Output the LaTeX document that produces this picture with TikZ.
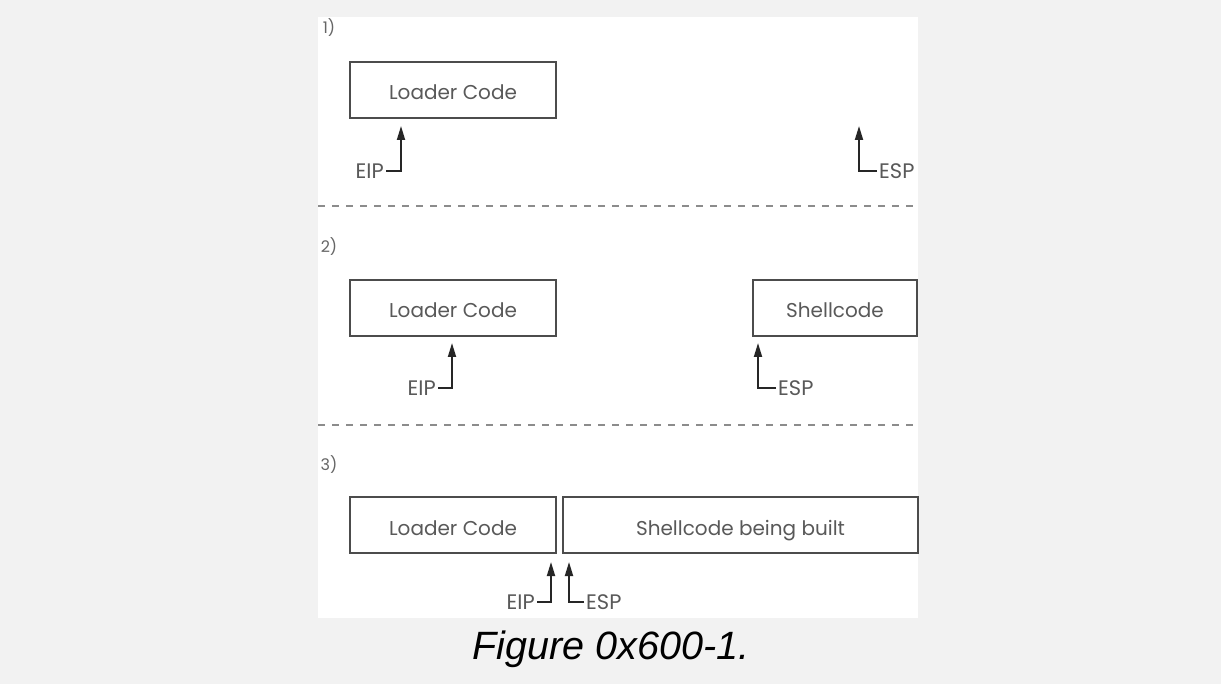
\documentclass[tikz,border=0pt]{standalone}
\usepackage{fontspec}
\setmainfont{Liberation Sans}
\newfontfamily\boxfont{Poppins}
\usetikzlibrary{arrows.meta, positioning}

\tikzset{
  mem/.style={draw=black!70, line width=1.8pt, minimum height=56pt, inner sep=0pt,
    text height=20pt, text depth=0pt,
    text=black!65, font=\boxfont\fontsize{20}{22}\selectfont},
  reg/.style={inner sep=2pt, text=black!65, font=\boxfont\fontsize{21}{22}\selectfont},
  ptr/.style={draw=black!85, line width=1.8pt, -{Triangle[width=8pt,length=14pt]}},
  sep/.style={draw=black!45, line width=2pt, dash pattern=on 7pt off 7pt},
  stage/.style={text=black!60, font=\boxfont\fontsize{16}{18}\selectfont}
}

\begin{document}
\begin{tikzpicture}[x=1pt, y=-1pt]
  \fill[black!5] (0,0) rectangle (1221,684);
  \fill[white] (318,17) rectangle (918,618);
  \useasboundingbox (0,0) rectangle (1221,684);

  % 1)
  \node[stage] (s1) at (329,28) {1)};
  \node[mem, minimum width=206pt] (lc1) at (453,90) {Loader Code};
  \node[reg, anchor=east] (eip1) at (386,171) {EIP};
  \node[reg, anchor=west] (esp1) at (877,171) {ESP};
  \coordinate (t1) at (401,126);
  \coordinate (t2) at (859,126);
  \draw[ptr] (eip1.east) -| (t1);
  \draw[ptr] (esp1.west) -| (t2);
  \draw[sep] (318,206) -- (918,206);

  % 2)
  \node[stage] (s2) at (329,247) {2)};
  \node[mem, minimum width=206pt] (lc2) at (453,308) {Loader Code};
  \node[mem, minimum width=164pt] (sc2) at (835,308) {Shellcode};
  \node[reg, anchor=east] (eip2) at (438,388) {EIP};
  \node[reg, anchor=west] (esp2) at (776,388) {ESP};
  \coordinate (t3) at (452,343);
  \coordinate (t4) at (758,343);
  \draw[ptr] (eip2.east) -| (t3);
  \draw[ptr] (esp2.west) -| (t4);
  \draw[sep] (318,425) -- (918,425);

  % 3)
  \node[stage] (s3) at (329,465) {3)};
  \node[mem, minimum width=206pt] (lc3) at (453,525) {Loader Code};
  \node[mem, minimum width=355pt] (sc3) at (740.5,525) {Shellcode being built};
  \node[reg, anchor=east] (eip3) at (537,602) {EIP};
  \node[reg, anchor=west] (esp3) at (584,602) {ESP};
  \coordinate (t5) at (551,562);
  \coordinate (t6) at (569,562);
  \draw[ptr] (eip3.east) -| (t5);
  \draw[ptr] (esp3.west) -| (t6);

  \node[font=\itshape\fontsize{39.5}{42}\selectfont] (cap) at (611,649) {Figure 0x600-1.};
\end{tikzpicture}
\end{document}
